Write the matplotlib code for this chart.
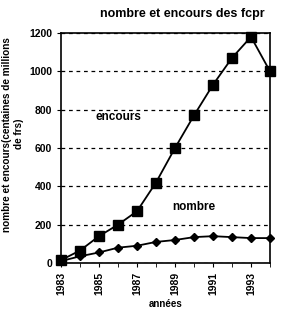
import matplotlib.pyplot as plt
import numpy as np

plt.rcParams['font.family'] = ['Liberation Sans', 'DejaVu Sans']
plt.rcParams['font.weight'] = 'bold'

years = [1983, 1984, 1985, 1986, 1987, 1988, 1989, 1990, 1991, 1992, 1993, 1994]
encours = [15, 65, 140, 200, 270, 420, 600, 770, 930, 1070, 1180, 1000]
nombre = [10, 35, 55, 80, 90, 110, 120, 135, 140, 135, 130, 130]
tick_years = [1983, 1985, 1987, 1989, 1991, 1993]

fig = plt.figure(figsize=(2.87, 3.12), dpi=100)
ax = fig.add_axes([61 / 287, 1 - 263 / 312, 209 / 287, 230 / 312])

ax.plot(years, encours, color='k', marker='s', markersize=7, lw=1.3, clip_on=False, zorder=3)
ax.plot(years, nombre, color='k', marker='D', markersize=4.5, lw=1.3, clip_on=False, zorder=3)

ax.set_xlim(1983, 1994)
ax.set_ylim(0, 1200)
ax.set_yticks(range(0, 1201, 200))
ax.set_xticks(years, minor=True)
ax.set_xticks(tick_years)
ax.set_xticklabels([str(y) for y in tick_years], rotation=90, fontsize=7.5, fontweight='bold')
for lab in ax.get_yticklabels():
    lab.set_fontweight('bold')
ax.tick_params(axis='y', labelsize=7.5, length=3)
ax.tick_params(axis='x', which='both', length=3)
ax.grid(axis='y', linestyle=(0, (3, 3)), color='k', lw=0.9)

for s in ax.spines.values():
    s.set_linewidth(1.2)

ax.text(1986.0, 760, 'encours', fontsize=8.5, ha='center', va='center', fontweight='bold')
ax.text(1990.0, 290, 'nombre', fontsize=8.5, ha='center', va='center', fontweight='bold')

ax.set_xlabel('années', fontsize=7, labelpad=3, fontweight='bold')
ax.set_ylabel('nombre et encours(centaines de millions\nde frs)', fontsize=7.2, fontweight='bold',
              linespacing=1.3)
ax.yaxis.set_label_coords(-0.175, 0.56)
fig.text(0.634, 0.955, 'nombre et encours des fcpr', ha='center', va='center', fontsize=9, fontweight='bold')

fig.savefig('out.png', dpi=100)
